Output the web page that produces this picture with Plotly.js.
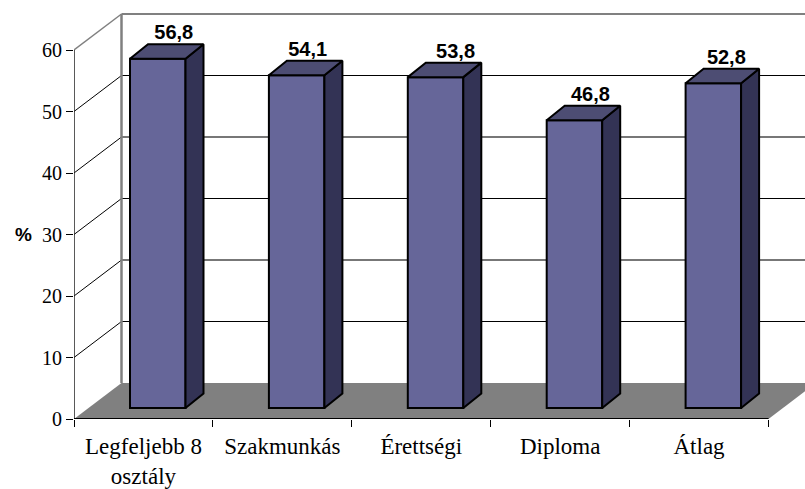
<!DOCTYPE html>
<html><head><meta charset="utf-8">
<script src="https://cdn.plot.ly/plotly-3.0.1.min.js"></script>
<style>html,body{margin:0;padding:0;background:#fff}</style>
</head><body><div id="chart" style="width:805px;height:489px"></div>
<script>
const categories = ['Legfeljebb 8<br>osztály','Szakmunkás','Érettségi','Diploma','Átlag'];
const values = [56.8,54.1,53.8,46.8,52.8];
const valueLabels = ['56,8','54,1','53,8','46,8','52,8'];
const yTicks = [0,10,20,30,40,50,60];
const softGrid = [20,40];
const labelShiftPx = [16,11,20,16,13];

// scale of the drawing
const W=805,H=489,L=74,B=419,T=8,xUnit=138.9,yUnit=6.15;
const px=p=>p/xUnit, py=p=>p/yUnit;
const wallDx=px(47.5), wallDy=py(36);
const barW=px(55.5), barShift=px(14.3), barBase=py(11), sideDx=px(18), sideDy=py(14.5);
const xMin=-0.5, xMax=xMin+(W-L)/xUnit, yMax=(B-T)/yUnit;
const xs=categories.map((_,i)=>i+barShift);
const yTop=yTicks[yTicks.length-1];
const nCat=categories.length;

const traces=[];
// front faces
traces.push({type:'bar',x:xs,y:values,base:values.map(()=>barBase),width:barW,
  marker:{color:'#666699',line:{color:'#000',width:2}},hoverinfo:'skip',showlegend:false});
values.forEach((v,i)=>{
  const l=xs[i]-barW/2,r=xs[i]+barW/2,b=barBase,t=v+barBase;
  traces.push({type:'scatter',mode:'lines',x:[r,r+sideDx,r+sideDx,r,r],y:[b,b+sideDy,t+sideDy,t,b],
    fill:'toself',fillcolor:'#333355',line:{color:'#000',width:2},hoverinfo:'skip',showlegend:false});
  traces.push({type:'scatter',mode:'lines',x:[l,l+sideDx,r+sideDx,r,l],y:[t,t+sideDy,t+sideDy,t,t],
    fill:'toself',fillcolor:'#4d4d73',line:{color:'#000',width:2},hoverinfo:'skip',showlegend:false});
});
// axis lines
traces.push({type:'scatter',mode:'lines',x:[xMin,xMin],y:[0,yTop],line:{color:'#222',width:1.5},cliponaxis:false,hoverinfo:'skip',showlegend:false});
traces.push({type:'scatter',mode:'lines',x:[xMin,xMin+nCat],y:[0,0],line:{color:'#000',width:2},cliponaxis:false,hoverinfo:'skip',showlegend:false});
// value labels
traces.push({type:'scatter',mode:'text',x:xs.map((x,i)=>x+px(labelShiftPx[i])),y:values.map(v=>v+barBase+sideDy),
  text:valueLabels,textposition:'top center',cliponaxis:false,
  textfont:{family:'"Liberation Sans",Arial,sans-serif',size:20,color:'#000',weight:700},hoverinfo:'skip',showlegend:false});

const shapes=[];
const grey='#808080';
// floor
shapes.push({type:'path',layer:'below',xref:'x',yref:'y',fillcolor:grey,line:{width:0},
  path:`M ${xMin} 0 L ${xMin+nCat} 0 L ${xMin+nCat+wallDx} ${wallDy} L ${xMin+wallDx} ${wallDy} Z`});
// gridlines: slanted side + back wall
yTicks.slice(1,-1).forEach(v=>{
  const soft=softGrid.includes(v);
  shapes.push({type:'line',layer:'below',xref:'x',yref:'y',x0:xMin,y0:v,x1:xMin+wallDx,y1:v+wallDy,line:{color:'#000',width:1}});
  shapes.push({type:'line',layer:'below',xref:'x',yref:'y',x0:xMin+wallDx,y0:v+wallDy,x1:xMax,y1:v+wallDy,line:{color:soft?'#777':'#000',width:soft?2:1}});
});
// wall frame
shapes.push({type:'line',layer:'below',xref:'x',yref:'y',x0:xMin,y0:yTop,x1:xMin+wallDx,y1:yTop+wallDy,line:{color:grey,width:1.5}});
shapes.push({type:'line',layer:'below',xref:'x',yref:'y',x0:xMin+wallDx,y0:yTop+wallDy,x1:xMax,y1:yTop+wallDy,line:{color:grey,width:2}});
shapes.push({type:'line',layer:'below',xref:'x',yref:'y',x0:xMin+wallDx,y0:wallDy,x1:xMin+wallDx,y1:yTop+wallDy,line:{color:grey,width:2.5}});

const layout={width:W,height:H,margin:{l:L,r:0,t:T,b:H-B,pad:0},paper_bgcolor:'#fff',plot_bgcolor:'#fff',
  showlegend:false,bargap:0,
  font:{family:'"Liberation Serif","Times New Roman",serif',size:19,color:'#000'},
  xaxis:{type:'linear',range:[xMin,xMax],showgrid:false,zeroline:false,showline:false,
    tickmode:'array',tickvals:categories.map((_,i)=>i),ticktext:categories,ticks:'',ticklabelstandoff:11,
    tickfont:{family:'"Liberation Serif","Times New Roman",serif',size:23},
    minor:{tickmode:'linear',tick0:xMin,dtick:1,ticks:'outside',ticklen:7,tickwidth:1,tickcolor:'#000',showgrid:false}},
  yaxis:{type:'linear',range:[0,yMax],showgrid:false,zeroline:false,showline:false,
    tickmode:'array',tickvals:yTicks,ticktext:yTicks.map(String),ticks:'outside',ticklen:7,tickwidth:1,tickcolor:'#000',
    tickfont:{family:'"Liberation Serif","Times New Roman",serif',size:20}},
  shapes:shapes,
  annotations:[{text:'<b>%</b>',xref:'paper',yref:'y',x:0,y:30,xanchor:'center',yanchor:'middle',xshift:-51,showarrow:false,
    font:{family:'"Liberation Sans",Arial,sans-serif',size:19,color:'#000'}}]};
Plotly.newPlot('chart',traces,layout,{displayModeBar:false,staticPlot:true});
</script></body></html>
